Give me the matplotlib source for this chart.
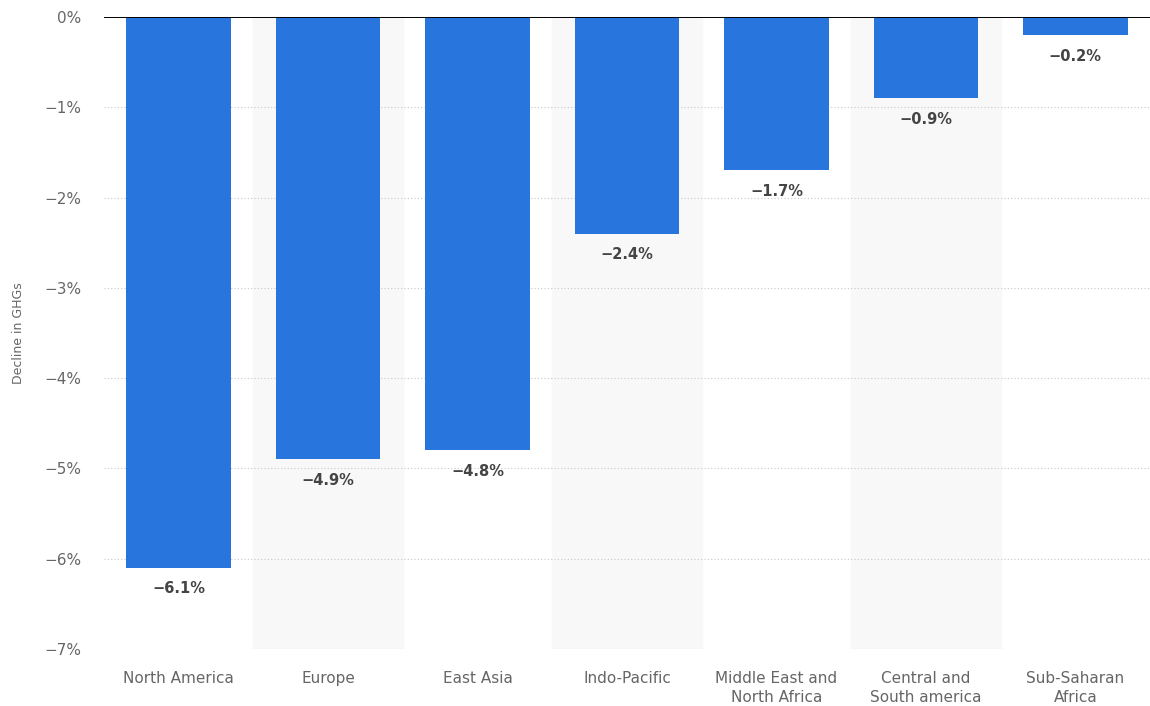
import matplotlib.pyplot as plt
import numpy as np

regions = ['North America', 'Europe', 'East Asia', 'Indo-Pacific',
           'Middle East and\nNorth Africa', 'Central and\nSouth america',
           'Sub-Saharan\nAfrica']
decline = [-6.1, -4.9, -4.8, -2.4, -1.7, -0.9, -0.2]
yticks = [0, -1, -2, -3, -4, -5, -6, -7]

plt.rcParams['font.family'] = ['DejaVu Sans']

fig = plt.figure(figsize=(11.5, 7.06), dpi=100)
ax = fig.add_axes([0.0904, 0.0807, 0.9096, 0.8953])

x = np.arange(len(regions))

# alternating background bands
for i in x:
    if i % 2 == 1:
        ax.axvspan(i - 0.5, i + 0.5, color='#f8f8f8', zorder=0)

ax.bar(x, decline, width=0.7, color='#2875dd', zorder=3)

for xi, v in zip(x, decline):
    ax.text(xi, v - 0.15, f'\u2212{abs(v):.1f}%', ha='center', va='top',
            fontsize=10.5, fontweight='bold', color='#444444', zorder=4)

ax.set_xlim(-0.5, len(regions) - 0.5)
ax.set_ylim(-7, 0)
ax.set_yticks(yticks)
ax.set_yticklabels(['0%'] + [f'\u2212{abs(t)}%' for t in yticks[1:]])
ax.set_xticks(x)
ax.set_xticklabels(regions, fontsize=11, color='#666666', linespacing=1.35)
ax.tick_params(axis='y', labelsize=11, labelcolor='#666666', length=0, pad=16)
ax.tick_params(axis='x', length=0, pad=16)

ax.grid(axis='y', linestyle=(0, (1, 2)), color='#c8c8c8', linewidth=0.8, zorder=1)
ax.axhline(0, color='#000000', linewidth=1.4, zorder=5)
for s in ax.spines.values():
    s.set_visible(False)

ax.set_ylabel('Decline in GHGs', fontsize=9, color='#666666', labelpad=14)

fig.savefig('out.png', dpi=100)
